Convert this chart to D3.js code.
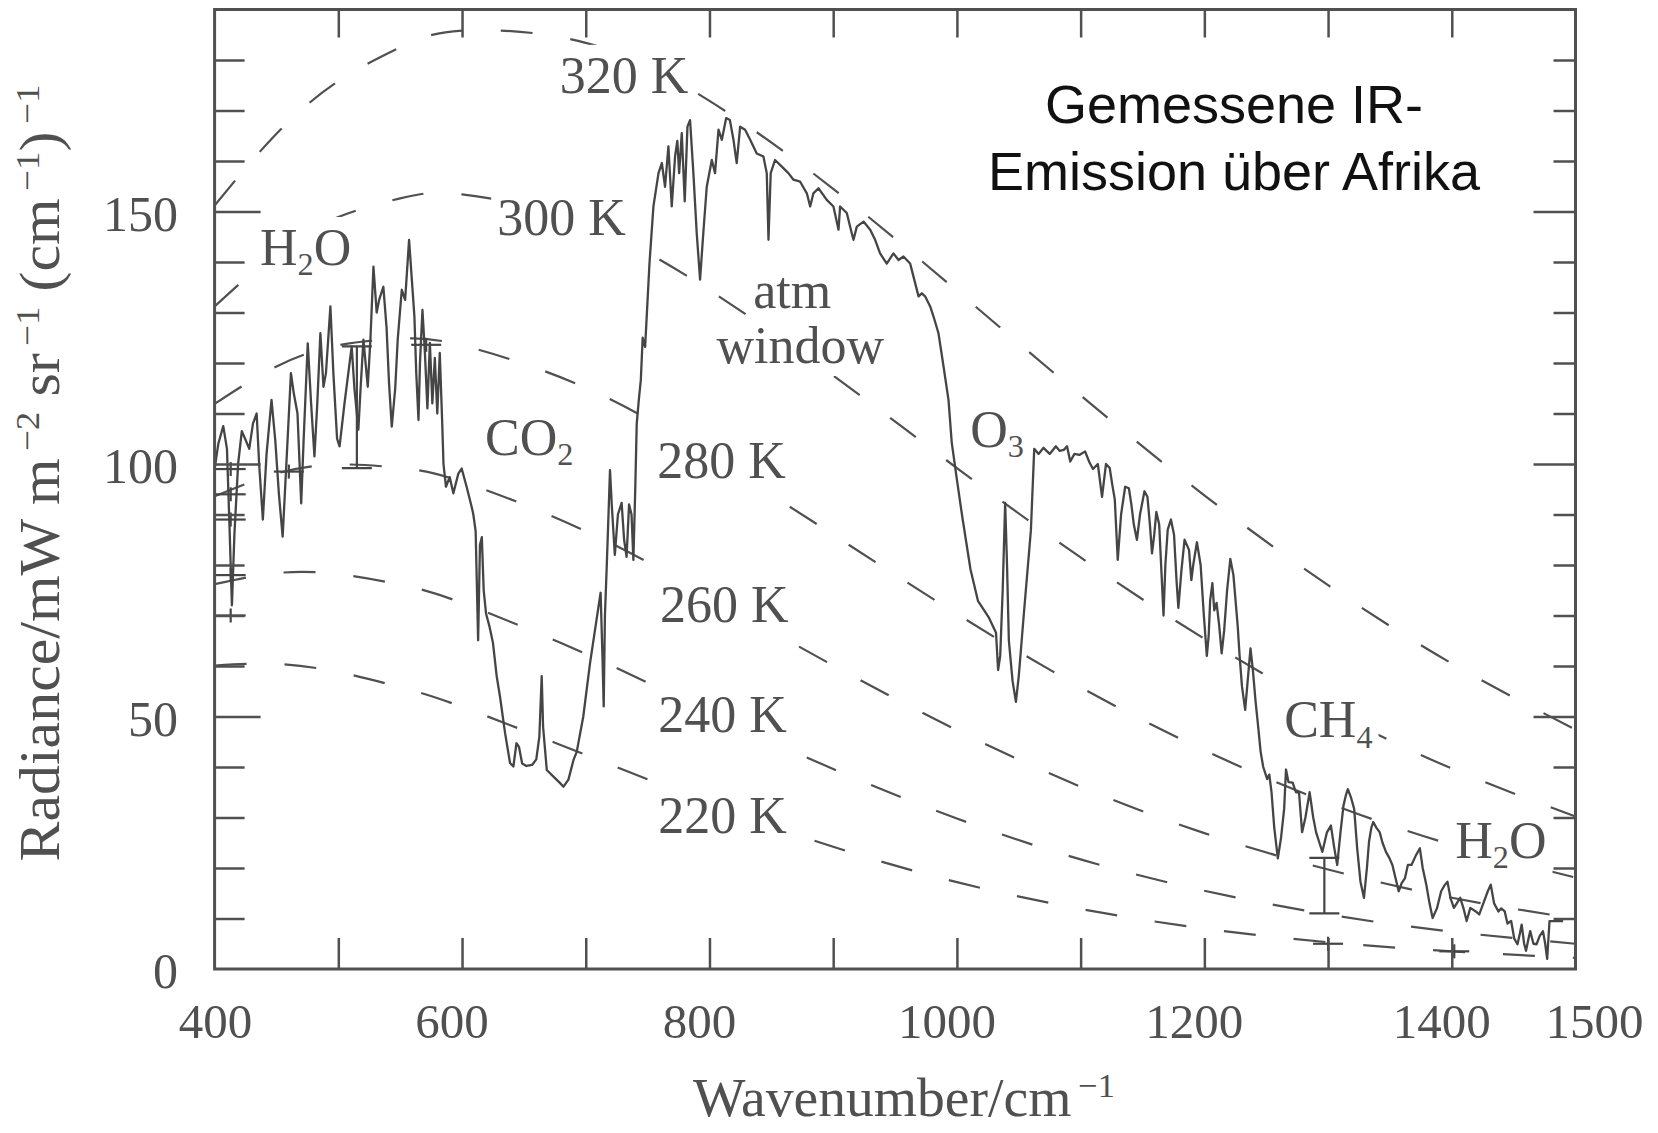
<!DOCTYPE html>
<html>
<head>
<meta charset="utf-8">
<script src="https://cdn.jsdelivr.net/npm/d3@7/dist/d3.min.js"></script>
<style>
  body { margin: 0; background: #fff; }
  svg { display: block; }
</style>
</head>
<body>
<svg width="1658" height="1133"></svg>
<script>
var spectrumNu = [400,403,407,410,412,414,416,419,422,425,428,431,434,436,439,442,446,449,452,455,458,461.7,464,467,470,472,475.3,478,480.7,483,485.5,488,490,493.6,496,499,501,505,510.8,513,516.2,518,520.3,523.8,526,528.4,531,533,536.4,539,541,543.2,546,548,551.3,554,557.2,559,561.5,563,564.8,566,568,570,572,574,576,578,580,582,584,585,587,590,593,597,599.7,603.7,607.8,609,611,613,614.5,616,617.5,619.4,622,625,628,630.7,634.8,638.8,641.5,644,646,648.6,652,656.6,660,662.5,664.4,665.5,668.5,673.9,679.3,682,686,690.1,692.7,698,703.5,708,712,713.5,714.5,715.5,717,719.6,721,723.5,726,729,731,733,735,737,738.5,740,741.2,743,744.5,746,748,751.5,754.7,758.8,761.5,764.1,766.8,769.5,772.2,774,775.5,777.6,780,782.2,784.3,787,789.7,792.4,795,797.8,801.9,804.5,807.3,810,813.5,816.5,819.4,822,824.8,828.8,832.9,838.2,843.6,846.3,847.7,849.5,853,858.5,863.8,867.9,873.3,878.7,881.4,884,888.1,894.8,900.2,904.3,905.6,911,915,916.4,919.1,924.5,929.9,933.9,937.9,943.3,948.7,952.8,956.8,962.2,964.9,969,971.6,974.3,978.4,981.1,985.1,989.2,993.2,995.8,1000,1004.3,1011,1017,1025.6,1031.6,1033.3,1035,1037,1039,1040.5,1042,1045,1047.7,1050,1054,1059.8,1062.5,1066,1070,1075,1080,1083,1086.4,1089,1091.6,1095,1099,1103.6,1107,1110,1113.9,1117.3,1120.5,1123.5,1125.5,1127.6,1130,1132.7,1136,1139,1141,1143,1145.5,1148,1151.6,1154,1156,1157.7,1159.5,1161.2,1163.5,1167,1168.5,1170.4,1173,1175.5,1177.5,1179,1181.5,1184,1187.6,1189.5,1191,1194,1197,1199.6,1202,1203.5,1204.7,1206.5,1208,1209.9,1212,1214,1216,1218.4,1221,1223.5,1227,1228.5,1230.4,1233,1235,1237.3,1239.3,1241.4,1243.5,1245.5,1247.6,1250.8,1252.5,1254.3,1256.5,1259.4,1262,1264.5,1266,1268,1271.4,1274,1276.5,1279,1281.7,1285.1,1288,1290.3,1293,1295.4,1299,1302.3,1305,1307.4,1310,1312.5,1314.5,1316,1318.5,1321.1,1323.5,1326.2,1329,1331.4,1333.1,1335,1336.5,1339,1341.7,1344,1346.8,1349.5,1352,1354.5,1357.1,1359.5,1362.2,1364.5,1367.4,1371,1374.2,1376.5,1379.4,1382,1384.5,1388,1391.4,1394,1396.5,1399,1401.7,1404,1406.8,1409.5,1412,1415,1418.8,1422.2,1425.5,1429.1,1431.5,1434.2,1437.7,1440,1442.8,1445,1448,1450.5,1453.1,1455,1456.5,1458.5,1460,1462,1463.4,1466,1468.5,1471,1473.7,1475.5,1477.1,1479,1480.5,1480.6,1485,1490,1495,1500];
var spectrumRad = [99,104,107.5,103,88,72,86,100,106.5,104.8,103,108,110,100,89,102,112.7,104.8,94,85.6,100,118,114,110,92.2,105,123.9,112,101.5,112,125.9,115.3,118,131.2,118,105,103.5,112,123.3,115,106.8,115,124.6,115.3,125,139.1,130,132.5,135.1,127,116,107.4,115,124.6,134.5,132.5,144.4,138,129.2,118,108.7,120,130.5,122,111,124,112,121,110,122,108,100,95.5,97.4,94.2,98.1,99.1,95.5,91.5,90.2,86.7,65.1,84,85.5,75,70.4,68,64.6,58,53.9,46.7,40.8,40.1,44.7,44,40.7,40.2,40.4,41.5,46,58,48,39.4,38.1,36.8,36.1,37.5,41.4,43,50,60.6,68,74.5,62,52,70,80,98.8,92,82,90,92.3,85,81.6,92,90,81,95,108,113,116.6,125,123.2,139.7,151,157.6,159.6,154.9,162.9,151,160.9,164,157.6,165.5,152,166.8,168.1,157.6,145.7,136.5,145.7,154.9,160.2,157.6,166.2,164.2,168.5,168.1,164.2,159.6,166.8,166.2,164.2,161.5,160.9,157.6,144.4,157.6,160.2,158.9,157.6,156.3,155.9,153.6,151,153.6,154.6,152.3,151,146.4,151,149.7,145.7,144.4,147,148,146.4,144.4,141.7,139.7,141.7,140.4,141.1,139.7,137.1,133.2,133.8,133.2,131.2,129.2,125.9,119.3,112.7,104.3,96.9,89.6,79.1,72.9,69.7,66.6,59.2,62,75,92.3,80,65,57,52.9,58,70,86.9,103,102,103.2,102,103.5,102.6,102.8,103.5,100.5,102,101.8,102.5,100.4,99,100,93.5,100,99.2,96,93,81,90,95.5,95.2,92,88,85,90,94.6,93.5,88,82.3,86,90.5,88,70,80,87,89,86,77,71.5,79,85,83,77,80,84.5,80,70,62,66,73,76.4,71,72.5,68,62.5,67,75,81.2,78,67.8,62,56,51.3,57,63.5,59,53,48,43,40,37.6,38.5,35,28,21.9,26,31.7,39.5,37,36.9,35,35,27.1,30,35,30,27.1,25,23.2,27,28.4,24,20.6,27,32.4,34.5,35.6,34,31.7,24,17.3,14.1,20,25.2,28,29.1,28,27.1,25,23.2,22,20.6,18,15.4,17,18,20.6,20.6,22.5,23.9,20,16.7,13,10.1,12,15.4,16.5,17.3,14,12.1,13,14.1,12,9.5,12.1,11.5,10.8,13,15.4,16.7,13,11.4,12,11.4,9,9.5,6,4.9,7,8.8,5,3.6,6,7.5,5,4.9,6.5,7.5,5,2,9.5,9.5,9.5,9.5,9.5];

// blackbody reference curves, read at these wavenumbers
var planckNu = [400,450,500,550,600,700,800,900,1000,1100,1200,1300,1400,1500];
var planck320 = [151.2,165.4,175.8,182.5,185.8,183.4,171.9,154.5,134.3,113.6,93.8,76.0,60.5,47.4];
var planck300 = [131.2,141.8,148.9,152.6,153.4,147.5,134.4,117.5,99.2,81.5,65.4,51.4,39.7,30.2];
var planck280 = [111.9,119.3,123.5,124.8,123.5,115.1,101.6,86.0,70.3,55.8,43.3,32.9,24.6,18.1];
var planck260 = [93.6,98.1,99.9,99.2,96.5,86.7,73.8,60.1,47.3,36.1,26.9,19.7,14.1,10.0];
var planck240 = [76.2,78.4,78.2,76.1,72.5,62.4,50.8,39.6,29.8,21.7,15.5,10.8,7.4,5.0];
var planck220 = [60.1,60.4,58.8,55.8,51.9,42.4,32.8,24.2,17.2,11.9,8.0,5.3,3.5,2.2];

// little error-bar crosses in the scan
var crossNu = [413,413,413,413,413,460,571,1300,1402];
var crossRad = [99,94,89,78,70,98.5,123.6,5,3.5];
var barNu = [515,1297];
var barLow = [99.2,11];
var barHigh = [123.3,22];

// annotations (anchor in data units)
var labelText = ["320 K","300 K","280 K","260 K","240 K","220 K","H_2O","CO_2","O_3","CH_4","H_2O","atm","window"];
var labelNu = [679,628.4,757.7,760.1,758.5,758.5,436.7,618.6,1010.7,1264.5,1402.8,866.9,873.4];
var labelRad = [173.5,145.3,97.2,68.7,46.9,26.9,139.4,101.8,103.4,45.9,22,130.9,120];

var titleLines = ["Gemessene IR-","Emission über Afrika"];
var titleNu = 1224;
var titleRad = [167.5,154.3];

var xTickLabels = [400,600,800,1000,1200,1400,1500];
var xTicks = [500,600,700,800,900,1000,1100,1200,1300,1400];
var yTickLabels = [0,50,100,150];
var yMinor = [10,20,30,40,60,70,80,90,110,120,130,140,160,170,180];
var yMajor = [50,100,150];

var svg = d3.select("svg");
var plotLeft = 214.6, plotRight = 1575.5, plotTop = 9.5, plotBottom = 969;
var ink = "#505050";
var serif = "'Liberation Serif','Times New Roman',serif";

var x = d3.scaleLinear().domain([400,1500]).range([plotLeft,plotRight]);
var y = d3.scaleLinear().domain([0,190]).range([plotBottom,plotTop]);

var gCurves = svg.append("g");
var gLabelBg = svg.append("g");
var gSpec = svg.append("g");
var gAxes = svg.append("g");
var gText = svg.append("g");

// dashed blackbody curves
var curveLine = d3.line()
    .x(function(d) { return x(d[0]); })
    .y(function(d) { return y(d[1]); })
    .curve(d3.curveNatural);

[planck320,planck300,planck280,planck260,planck240,planck220].forEach(function(vals) {
  gCurves.append("path")
    .datum(planckNu.map(function(n,i) { return [n, vals[i]]; }))
    .attr("d", curveLine)
    .attr("fill","none")
    .attr("stroke", ink)
    .attr("stroke-width", 2.2)
    .attr("stroke-dasharray", "32,38");
});

// measured spectrum
var specLine = d3.line()
    .x(function(d) { return x(d[0]); })
    .y(function(d) { return y(d[1]); });

gSpec.append("path")
  .datum(spectrumNu.map(function(n,i) { return [n, spectrumRad[i]]; }))
  .attr("d", specLine)
  .attr("fill","none")
  .attr("stroke","#454545")
  .attr("stroke-width",2.3)
  .attr("stroke-linejoin","round");

crossNu.forEach(function(n,i) {
  gSpec.append("line")
    .attr("x1", x(n)-15).attr("x2", x(n)+15)
    .attr("y1", y(crossRad[i])).attr("y2", y(crossRad[i]))
    .attr("stroke", "#454545").attr("stroke-width", 2.2);
  gSpec.append("line")
    .attr("x1", x(n)).attr("x2", x(n))
    .attr("y1", y(crossRad[i])-7).attr("y2", y(crossRad[i])+7)
    .attr("stroke", "#454545").attr("stroke-width", 2.2);
});
barNu.forEach(function(n,i) {
  var p = d3.path();
  p.moveTo(x(n), y(barLow[i])); p.lineTo(x(n), y(barHigh[i]));
  p.moveTo(x(n)-15, y(barLow[i])); p.lineTo(x(n)+15, y(barLow[i]));
  p.moveTo(x(n)-15, y(barHigh[i])); p.lineTo(x(n)+15, y(barHigh[i]));
  gSpec.append("path").attr("d", p.toString())
    .attr("stroke", "#454545").attr("stroke-width", 2.2).attr("fill","none");
});

// frame and ticks
function tickAxis(axis, tx, ty) {
  var g = gAxes.append("g")
    .attr("transform","translate(" + tx + "," + ty + ")")
    .call(axis);
  g.select(".domain").remove();
  g.selectAll("text").remove();
  g.selectAll("line").attr("stroke", ink).attr("stroke-width", 2.5);
  return g;
}
tickAxis(d3.axisBottom(x).tickValues(xTicks).tickSize(-31).tickFormat(""), 0, plotBottom);
tickAxis(d3.axisTop(x).tickValues(xTicks).tickSize(-28).tickFormat(""), 0, plotTop);
tickAxis(d3.axisLeft(y).tickValues(yMinor).tickSize(-30).tickFormat(""), plotLeft, 0);
tickAxis(d3.axisLeft(y).tickValues(yMajor).tickSize(-46).tickFormat(""), plotLeft, 0);
tickAxis(d3.axisRight(y).tickValues(yMinor).tickSize(-22).tickFormat(""), plotRight, 0);
tickAxis(d3.axisRight(y).tickValues(yMajor).tickSize(-42).tickFormat(""), plotRight, 0);

gAxes.append("rect")
  .attr("x", plotLeft).attr("y", plotTop)
  .attr("width", plotRight-plotLeft).attr("height", plotBottom-plotTop)
  .attr("fill","none").attr("stroke", ink).attr("stroke-width", 3);

// tick labels
gText.selectAll(".xl")
  .data(xTickLabels)
  .enter().append("text")
  .attr("x", function(d) { return x(d) + (d === 400 ? 1 : d === 1500 ? 19 : -10); })
  .attr("y", 1038)
  .attr("text-anchor","middle")
  .attr("font-family", serif)
  .attr("font-size", 49)
  .attr("fill", ink)
  .text(function(d) { return d; });

gText.selectAll(".yl")
  .data(yTickLabels)
  .enter().append("text")
  .attr("x", 178)
  .attr("y", function(d) { return y(d) + 19; })
  .attr("text-anchor","end")
  .attr("font-family", serif)
  .attr("font-size", 50)
  .attr("fill", ink)
  .text(function(d) { return d; });

// plot annotations, subscripts written as _n
function addRich(g, str, size) {
  var parts = str.split(/(_\d)/).filter(function(s) { return s.length; });
  var shifted = false;
  parts.forEach(function(s) {
    var t = g.append("tspan");
    if (s[0] === "_") {
      t.text(s.slice(1)).attr("font-size", size*0.62).attr("dy", size*0.2);
      shifted = true;
    } else {
      t.text(s);
      if (shifted) { t.attr("dy", -size*0.2); shifted = false; }
    }
  });
}

labelText.forEach(function(s, i) {
  var mid = (s === "atm" || s === "window");
  var t = gText.append("text")
    .attr("x", x(labelNu[i]))
    .attr("y", y(labelRad[i]))
    .attr("text-anchor", mid ? "middle" : "start")
    .attr("font-family", serif)
    .attr("font-size", 52)
    .attr("fill", ink);
  addRich(t, s, 52);
  var bb = t.node().getBBox();
  gLabelBg.append("rect")
    .attr("x", bb.x-6).attr("y", bb.y-2)
    .attr("width", bb.width+12).attr("height", bb.height+4)
    .attr("fill","#fff");
});

titleLines.forEach(function(s, i) {
  gText.append("text")
    .attr("x", x(titleNu))
    .attr("y", y(titleRad[i]))
    .attr("text-anchor","middle")
    .attr("font-family","'Liberation Sans',Arial,sans-serif")
    .attr("font-size", 54)
    .attr("fill","#111")
    .text(s);
});

// axis titles, stretched to the scan's length
function supText(t, pieces, size) {
  pieces.forEach(function(p) {
    var ts = t.append("tspan").text(p[0]);
    if (p[1] === "up") ts.attr("font-size", size*0.62).attr("dy", -size*0.36);
    if (p[1] === "down") ts.attr("dy", size*0.36);
  });
}

var xTitle = gText.append("text")
  .attr("text-anchor","middle")
  .attr("font-family", serif)
  .attr("font-size", 54)
  .attr("fill", ink);
supText(xTitle, [["Wavenumber/cm",""],["\u2009\u22121","up"]], 54);
var xw = xTitle.node().getBBox().width;
xTitle.attr("transform","translate(904,1116) scale(" + (422/xw) + ",1)");

var yTitle = gText.append("text")
  .attr("text-anchor","middle")
  .attr("font-family", serif)
  .attr("font-size", 56)
  .attr("fill", ink);
supText(yTitle, [
  ["Radiance/mW m",""],["\u2009\u22122","up"],[" sr","down"],["\u2009\u22121","up"],
  [" (cm","down"],["\u2009\u22121","up"],[")","down"],["\u2009\u22121","up"]
], 56);
var yw = yTitle.node().getBBox().width;
yTitle.attr("transform","translate(59,473) rotate(-90) scale(" + (777/yw) + ",1)");
</script>
</body>
</html>
